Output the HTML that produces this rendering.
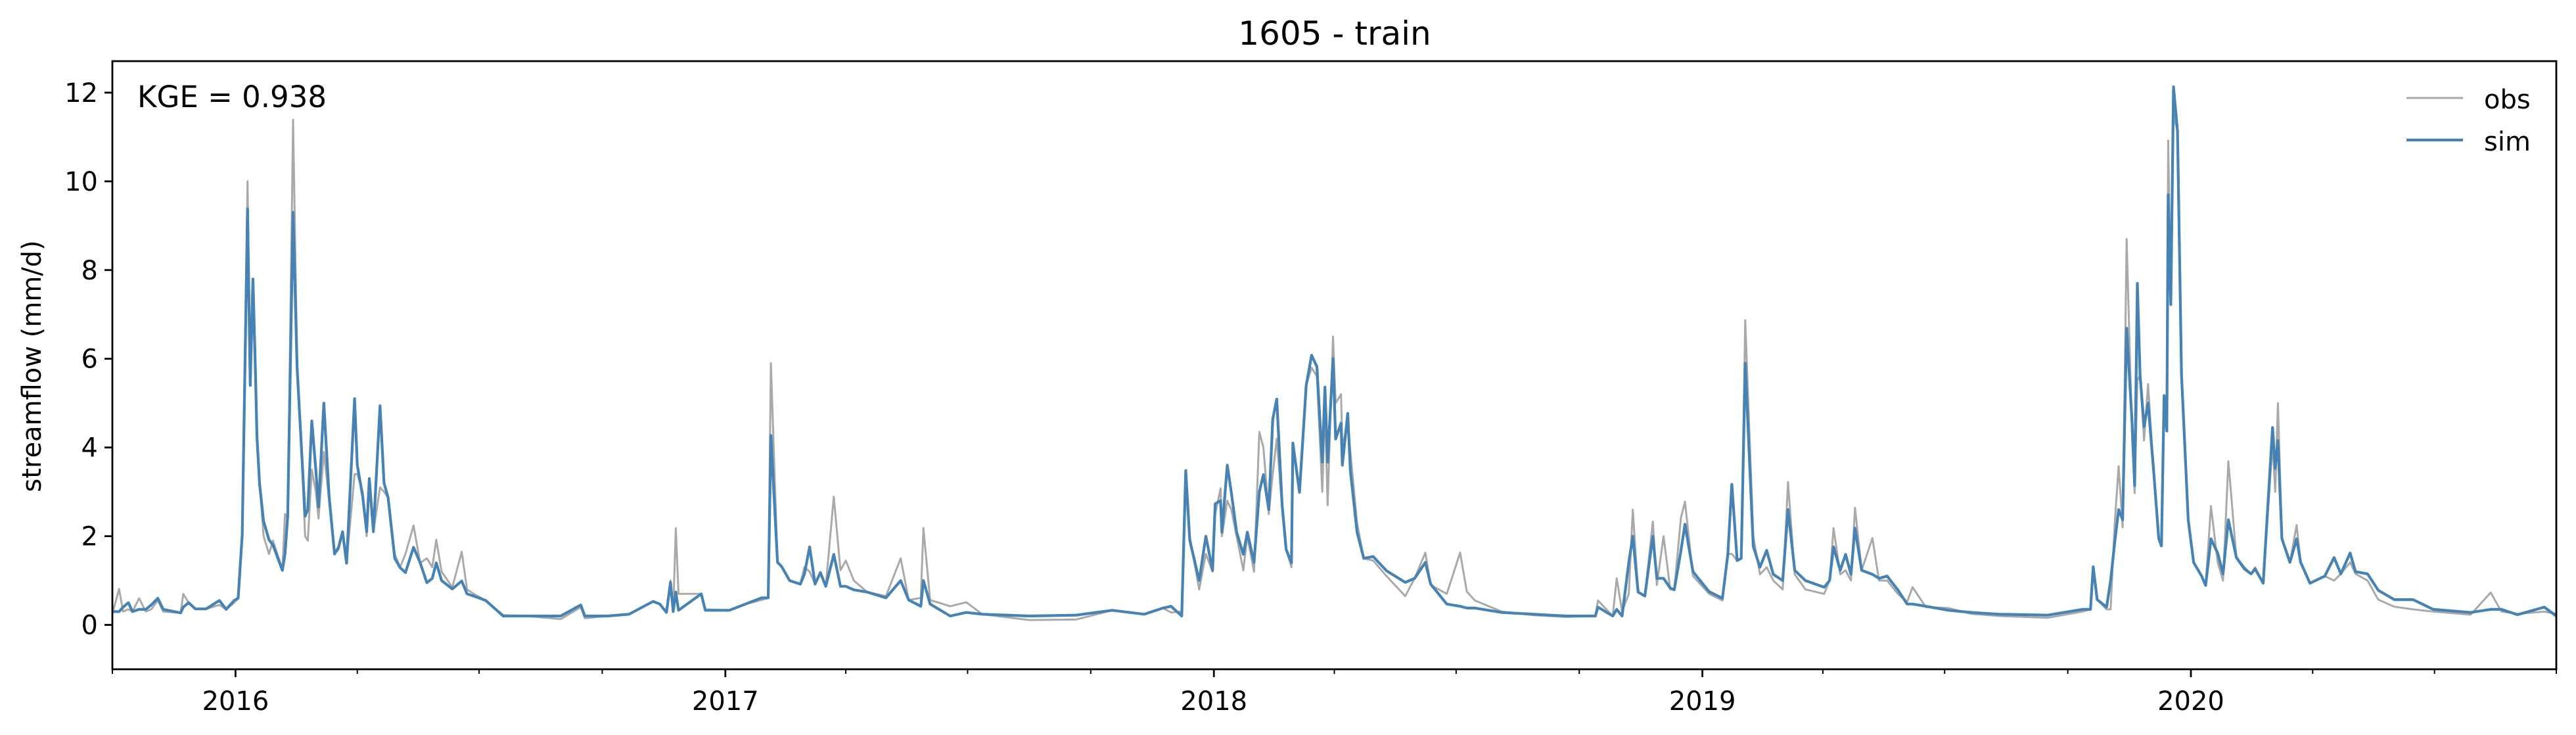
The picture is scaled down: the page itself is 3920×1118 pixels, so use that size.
<!DOCTYPE html>
<html><head><meta charset="utf-8"><style>
html,body{margin:0;padding:0;background:#fff;}
svg{display:block;font-family:"DejaVu Sans","Liberation Sans",sans-serif;}
</style></head><body>
<svg id="chart" width="3920" height="1118" viewBox="0 0 3920 1118" xmlns="http://www.w3.org/2000/svg">
<rect x="0" y="0" width="3920" height="1118" fill="#fff"/>
<text x="2031" y="68" font-size="50" text-anchor="middle" fill="#000">1605 - train</text>
<text transform="translate(62,557) rotate(-90)" font-size="40" text-anchor="middle" fill="#000">streamflow (mm/d)</text>
<g id="plot"></g>
<g id="axes"></g>
<text x="209" y="163" font-size="45" fill="#000">KGE = 0.938</text>
<g>
<line x1="3662" y1="149" x2="3748" y2="149" stroke="#a9a9a9" stroke-width="3"/>
<text x="3780" y="165" font-size="40" fill="#000">obs</text>
<line x1="3662" y1="213" x2="3748" y2="213" stroke="#4682b4" stroke-width="4.2"/>
<text x="3780" y="229" font-size="40" fill="#000">sim</text>
</g>
</svg>
<script>
// days since 2015-10-01
const days = [0,5,8,12,15,20,25,29,34,38,51,53,57,62,70,80,85,91,94,97,101,103,105,107,108,110,113,117,120,127,129,131,135,138,141,144,146,149,152,154,158,162,166,169,172,175,181,183,187,190,192,195,200,203,206,211,215,219,225,230,235,239,242,246,254,261,265,270,279,292,310,335,350,353,370,
386,404,409,414,417,419,421,423,440,443,461,473,485,490,492,497,500,506,514,517,521,525,529,533,539,544,548,554,564,578,589,595,604,606,611,626,638,650,685,720,747,771,785,791,799,802,805,812,817,822,824,828,829,833,836,840,845,848,853,857,860,864,867,870,874,877,881,
882,887,892,896,900,904,906,908,912,914,918,919,923,925,930,935,942,952,966,973,981,985,997,1007,1012,1018,1038,1062,1086,1108,1110,1121,1124,1128,1133,1136,1140,1145,1151,1154,1159,1164,1167,1172,1175,1181,1193,1203,1207,1210,1214,1217,1220,1226,1231,1236,1241,1248,1252,1257,1265,1279,1283,1286,1291,1295,1299,1302,1307,1315,1320,1326,1334,1341,1345,1355,1372,1389,1410,
1446,1472,1478,1480,1483,1490,1493,1496,1499,1502,1505,1509,1511,1513,1515,1518,1521,1525,1529,1531,1533,1535,1536,1538,1540,1543,1546,1551,1555,1561,1564,1568,1573,1577,1581,1587,1593,1598,1601,1607,1614,1616,1618,1621,1627,1632,1635,1642,1653,1660,1665,1672,1676,1685,1693,1705,1719,1734,1762,1777,1785,1797,1817,1826];
const obs = [.25,.81,.3,.35,.3,.6,.3,.35,.55,.3,.27,.7,.5,.36,.36,.45,.35,.5,.6,2.0,10.0,5.5,7.5,5.4,4.3,3.2,2.0,1.6,1.9,1.25,2.5,2.4,11.39,6.0,4.14,2.0,1.9,3.5,3.0,2.4,3.9,2.8,1.6,1.7,2.1,1.4,3.4,3.4,3.0,2.0,3.3,2.1,3.1,3.0,2.87,1.6,1.3,1.6,2.24,1.4,1.5,1.3,1.92,1.2,.85,1.65,.8,.7,.55,.22,.2,.13,.4,.15,.2,
.24,.53,.47,.28,1.0,.3,2.18,.7,.7,.35,.33,.47,.56,.61,5.9,1.41,1.32,1.0,.92,1.3,1.2,.92,1.18,.87,2.89,1.23,1.45,1.0,.74,.65,1.5,.56,.61,2.18,.56,.42,.51,.24,.11,.12,.33,.24,.38,.28,.3,3.1,2.0,.8,1.6,1.2,2.5,3.08,2.0,2.8,2.6,2.0,1.23,2.0,1.2,4.35,4.0,2.5,3.4,4.2,2.6,1.7,1.3,
4.0,3.0,5.4,5.8,5.6,3.0,5.0,2.7,6.5,5.0,5.2,4.0,4.6,3.9,2.3,1.5,1.45,1.1,.65,1.05,1.63,.9,.7,1.63,.75,.55,.3,.22,.18,.2,.55,.2,1.05,.3,.7,2.6,.74,.65,2.33,.9,2.0,.8,.8,2.42,2.78,1.1,.7,.55,1.6,1.6,1.45,1.5,6.87,2.0,1.14,1.3,1.0,.8,3.22,1.14,.8,.7,1.0,2.18,1.14,1.23,1.0,2.64,1.23,1.96,1.0,1.0,.7,.52,.85,.4,.38,.25,.2,
.16,.3,.35,1.31,.57,.35,.35,2.25,3.58,2.2,8.7,4.3,2.97,5.5,5.64,4.16,5.43,3.53,1.94,1.78,5.0,4.37,10.92,7.22,11.5,11.13,5.64,2.37,1.41,1.1,.89,2.68,1.41,1.0,3.69,1.52,1.3,1.15,1.3,.94,4.1,3.0,5.0,1.94,1.41,2.25,1.41,.94,1.1,1.0,1.15,1.41,1.15,1.0,.57,.41,.35,.3,.23,.73,.3,.25,.3,.25];
const sim = [.3,.3,.4,.5,.3,.35,.35,.45,.6,.35,.27,.4,.5,.36,.36,.55,.35,.55,.6,2.03,9.38,5.4,7.8,5.6,4.25,3.18,2.34,1.92,1.8,1.23,1.6,2.45,9.3,5.8,4.14,2.45,2.6,4.6,3.5,2.66,5.0,2.88,1.6,1.75,2.1,1.39,5.1,3.6,2.9,2.1,3.3,2.1,4.94,3.2,2.87,1.5,1.29,1.18,1.75,1.4,.95,1.05,1.4,1.0,.81,.99,.7,.65,.55,.2,.2,.2,.45,.2,.2,
.24,.53,.47,.28,.96,.3,.74,.33,.7,.33,.33,.47,.61,.61,4.27,1.41,1.32,1.0,.92,1.14,1.76,.92,1.18,.87,1.59,.87,.87,.79,.74,.61,1.0,.56,.42,1.0,.47,.2,.28,.24,.2,.22,.33,.24,.38,.42,.2,3.48,1.91,1.0,2.0,1.23,2.73,2.8,2.09,3.6,2.99,2.09,1.59,2.09,1.41,3.0,3.39,2.6,4.64,5.09,2.7,1.7,1.4,
4.1,2.99,5.4,6.08,5.82,3.67,5.36,3.67,6.0,4.19,4.55,3.6,4.77,3.48,2.09,1.5,1.54,1.22,.96,1.05,1.41,.92,.47,.42,.38,.38,.28,.24,.2,.2,.4,.2,.35,.2,1.41,2.0,.74,.65,2.0,1.05,1.05,.83,.79,1.68,2.27,1.2,.75,.6,1.59,3.17,1.45,1.5,5.9,1.77,1.3,1.68,1.14,1.0,2.6,1.23,1.0,.85,1.0,1.76,1.23,1.59,1.14,2.18,1.23,1.14,1.05,1.1,.79,.47,.47,.42,.33,.28,.24,
.22,.35,.35,1.31,.57,.4,1.0,1.84,2.6,2.37,6.69,4.58,3.14,7.7,5.64,4.47,5.0,3.53,1.94,1.78,5.17,4.37,9.7,7.22,12.13,11.13,5.64,2.37,1.41,1.1,.89,1.94,1.62,1.15,2.37,1.52,1.26,1.15,1.26,.94,4.45,3.53,4.16,1.94,1.41,1.94,1.41,.94,1.1,1.52,1.15,1.62,1.2,1.15,.78,.57,.57,.35,.28,.35,.35,.23,.4,.2];
const yTicks = [0,2,4,6,8,10,12];
const yearTicks = ["2016","2017","2018","2019","2020"];
const yearDays = [92,458,823,1188,1553];
const minorDays = [0,183,274,366,548,639,731,913,1004,1096,1278,1369,1461,1644,1735,1826];

const L=171,R=3890,T=93,B=1018,D0=0,D1=1826,YMIN=-1,YMAX=12.71;
const X=d=>L+(d-D0)/(D1-D0)*(R-L);
const Y=v=>B-(v-YMIN)/(YMAX-YMIN)*(B-T);
const NS="http://www.w3.org/2000/svg";
function mk(tag,attrs,parent){const e=document.createElementNS(NS,tag);for(const k in attrs)e.setAttribute(k,attrs[k]);parent.appendChild(e);return e;}
const plot=document.getElementById('plot'), axes=document.getElementById('axes');
function series(vals,color,w,name){
  let d='';vals.forEach((v,i)=>{d+=(i?'L':'M')+X(days[i]).toFixed(1)+' '+Y(v).toFixed(1);});
  const p=mk('path',{d:d,fill:'none',stroke:color,'stroke-width':w,'stroke-linejoin':'round'},plot);
  
  
}
series(obs,'#a9a9a9',3,'obs-line');
series(sim,'#4682b4',4.2,'sim-line');
const frame=mk('rect',{x:L,y:T,width:R-L,height:B-T,fill:'none',stroke:'#000','stroke-width':2.8},axes);


yTicks.forEach(v=>{
  const t=mk('line',{x1:L-12,x2:L,y1:Y(v),y2:Y(v),stroke:'#000','stroke-width':2.8},axes);
  
  
  const tx=mk('text',{x:L-22,y:Y(v)+14,'font-size':40,'text-anchor':'end',fill:'#000'},axes);
  tx.textContent=v;
  
  
});
yearDays.forEach((d,i)=>{
  const t=mk('line',{x1:X(d),x2:X(d),y1:B,y2:B+12,stroke:'#000','stroke-width':2.8},axes);
  
  
  const tx=mk('text',{x:X(d),y:B+62,'font-size':40,'text-anchor':'middle',fill:'#000'},axes);
  tx.textContent=yearTicks[i];
  
  
});
minorDays.forEach(d=>{
  const t=mk('line',{x1:X(d),x2:X(d),y1:B,y2:B+7,stroke:'#000','stroke-width':2},axes);
  
  
});
</script>
</body></html>
